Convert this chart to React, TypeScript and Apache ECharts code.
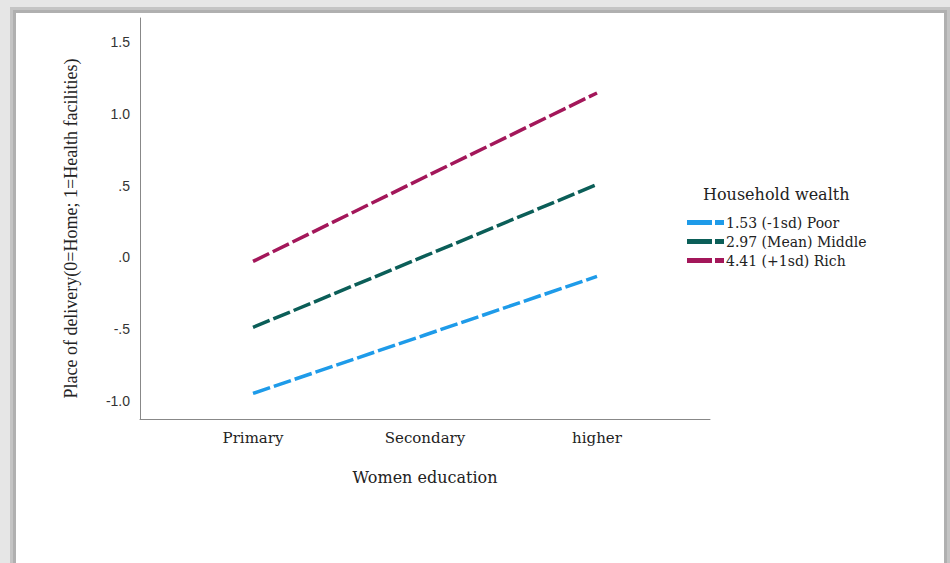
import React, { useEffect, useRef } from "react";
import * as echarts from "echarts";

const categories = ["Primary", "Secondary", "higher"];
const seriesNames = ["1.53 (-1sd) Poor", "2.97 (Mean) Middle", "4.41 (+1sd) Rich"];
const poor = [-0.947, -0.54, -0.132];
const middle = [-0.487, 0.01, 0.508];
const rich = [-0.028, 0.56, 1.145];
const yTicks = [-1.0, -0.5, 0.0, 0.5, 1.0, 1.5];
const colors = ["#1e9be9", "#0b5e58", "#a3175a"];

function fmtY(v: number): string {
  const s = Math.abs(v).toFixed(1);
  const t = Math.abs(v) < 1 ? s.replace(/^0/, "") : s;
  return (v < 0 ? "-" : "") + t;
}

export default function App() {
  const ref = useRef<HTMLDivElement>(null);
  useEffect(() => {
    document.body.style.margin = "0";
    if (!ref.current) return;
    const chart = echarts.init(ref.current, null, { renderer: "svg" });
    const all = [poor, middle, rich];
    const option: any = {
      animation: false,
      backgroundColor: "#e6e6e6",
      graphic: [
        { type: "rect", z: -10, shape: { x: 10, y: 7, width: 940, height: 560 }, style: { fill: "#c4c4c4" } },
        { type: "rect", z: -10, shape: { x: 13, y: 10, width: 934, height: 560 }, style: { fill: "#b0b0b0" } },
        { type: "rect", z: -9, shape: { x: 16, y: 13, width: 928, height: 560 }, style: { fill: "#ffffff" } },
      ],
      title: {
        text: "Household wealth",
        left: 698,
        top: 181,
        textStyle: { fontFamily: "DejaVu Serif", fontSize: 16, fontWeight: "normal", color: "#222" },
      },
      legend: {
        orient: "vertical",
        left: 682,
        top: 208,
        itemWidth: 37,
        itemHeight: 5,
        itemGap: 0,
        icon: "path://M0,0H25V5H0Z M28,0H37V5H28Z",
        textStyle: { fontFamily: "DejaVu Serif", fontSize: 14, color: "#222", lineHeight: 19, padding: [0, 0, 0, -3] },
        data: seriesNames,
      },
      grid: { left: 140, top: 18, width: 570, height: 401 },
      xAxis: {
        type: "value",
        min: -0.657,
        max: 2.657,
        splitLine: { show: false },
        axisTick: { show: false },
        axisLine: { show: true, onZero: false, lineStyle: { color: "#888", width: 1 } },
        axisLabel: {
          customValues: [0, 1, 2],
          formatter: (v: number) => categories[Math.round(v)] ?? "",
          fontFamily: "DejaVu Serif",
          fontSize: 15,
          color: "#222",
          margin: 11,
        },
        name: "Women education",
        nameLocation: "middle",
        nameGap: 50,
        nameTextStyle: { fontFamily: "DejaVu Serif", fontSize: 16, color: "#222" },
      },
      yAxis: {
        type: "value",
        min: -1.125,
        max: 1.667,
        splitLine: { show: false },
        axisTick: { show: false },
        axisLine: { show: true, onZero: false, lineStyle: { color: "#888", width: 1 } },
        axisLabel: {
          customValues: yTicks,
          formatter: (v: number) => fmtY(v),
          fontFamily: "Liberation Sans",
          fontSize: 14,
          color: "#333",
          margin: 10,
        },
        name: "Place of delivery(0=Home; 1=Health facilities)",
        nameLocation: "middle",
        nameGap: 60,
        nameTextStyle: { fontFamily: "Liberation Serif", fontSize: 18, color: "#222", padding: [0, 20, 0, 0] },
      },
      series: all.map((vals, i) => ({
        type: "line",
        name: seriesNames[i],
        data: vals.map((v, j) => [j, v]),
        showSymbol: false,
        symbol: "none",
        color: colors[i],
        lineStyle: { color: colors[i], width: 3.5, type: [18, 4], cap: "butt" },
      })),
    };
    chart.setOption(option);
    return () => chart.dispose();
  }, []);
  return <div ref={ref} style={{ width: 950, height: 563 }} />;
}
